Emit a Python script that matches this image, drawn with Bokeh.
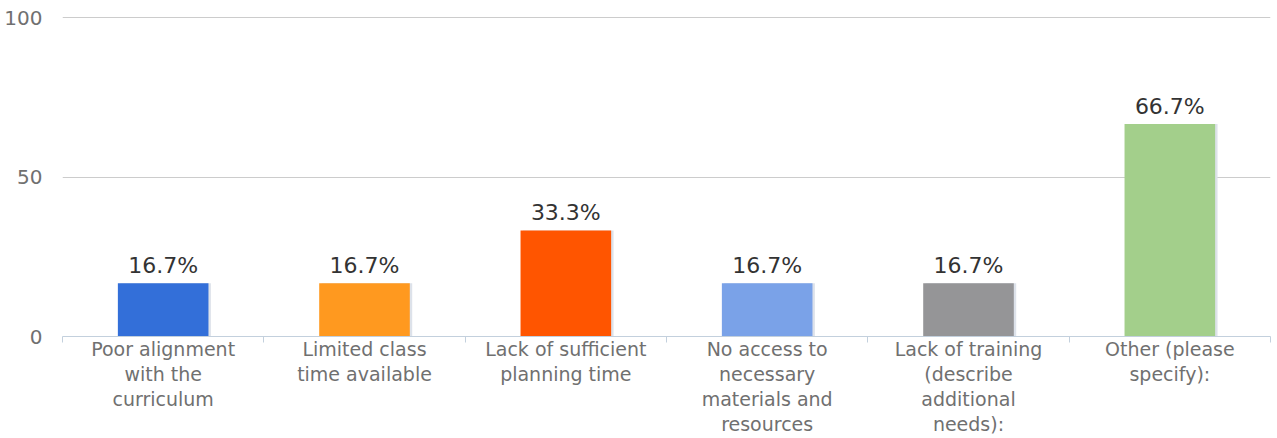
from bokeh.plotting import figure
from bokeh.models import ColumnDataSource, LabelSet, Range1d, FixedTicker
from bokeh.core.properties import value
from bokeh.embed import file_html
from bokeh.resources import INLINE

categories = [
    "Poor alignment\nwith the\ncurriculum",
    "Limited class\ntime available",
    "Lack of sufficient\nplanning time",
    "No access to\nnecessary\nmaterials and\nresources",
    "Lack of training\n(describe\nadditional\nneeds):",
    "Other (please\nspecify):",
]
values = [16.7, 16.7, 33.3, 16.7, 16.7, 66.7]
colors = ["#336fd9", "#ff991f", "#ff5500", "#7aa2e8", "#959597", "#a3cf8b"]
y_ticks = [0, 50, 100]

n = len(categories)
xs = [i + 0.5 for i in range(n)]
src = ColumnDataSource(dict(
    x=xs,
    xs=[x + 0.012 for x in xs],
    top=values,
    color=colors,
    label=[f"{v:.1f}%" for v in values],
))

p = figure(width=1277, height=438, output_backend="svg", toolbar_location=None,
           x_range=Range1d(0, n), y_range=Range1d(0, 102),
           min_border_left=62, min_border_right=7, min_border_top=11, min_border_bottom=100)
p.outline_line_color = None
p.background_fill_color = "white"

# shadow
p.vbar(x="xs", top="top", bottom=0, width=0.45, source=src,
       fill_color="#dde2ea", line_color=None)
p.vbar(x="x", top="top", bottom=0, width=0.45, source=src,
       fill_color="color", line_color=None)

labels = LabelSet(x="x", y="top", text="label", source=src, y_offset=5,
                  text_align="center", text_baseline="bottom",
                  text_font=value("DejaVu Sans"), text_font_size="22px", text_color="#333333")
p.add_layout(labels)

# y axis
p.yaxis.ticker = FixedTicker(ticks=y_ticks)
p.yaxis.axis_line_color = None
p.yaxis.major_tick_line_color = None
p.yaxis.minor_tick_line_color = None
p.yaxis.major_label_text_font = "DejaVu Sans"
p.yaxis.major_label_text_font_size = "20px"
p.yaxis.major_label_text_color = "#707070"
p.yaxis.major_label_standoff = 14

p.ygrid.ticker = FixedTicker(ticks=y_ticks[1:])
p.ygrid.grid_line_color = "#cccccc"
p.ygrid.grid_line_width = 1
p.xgrid.grid_line_color = None

# x axis
p.xaxis.ticker = FixedTicker(ticks=xs, minor_ticks=list(range(n + 1)))
p.xaxis.major_label_overrides = {x: c for x, c in zip(xs, categories)}
p.xaxis.axis_line_color = "#c3d0dd"
p.xaxis.major_tick_line_color = None
p.xaxis.minor_tick_line_color = "#c3d0dd"
p.xaxis.minor_tick_in = 0
p.xaxis.minor_tick_out = 6
p.xaxis.major_tick_out = 0
p.xaxis.major_tick_in = 0
p.xaxis.major_label_standoff = -5
p.xaxis.major_label_text_font = "DejaVu Sans"
p.xaxis.major_label_text_font_size = "19px"
p.xaxis.major_label_text_color = "#707070"
p.xaxis.major_label_text_line_height = 1.15

open("out.html", "w").write(file_html(p, INLINE))
